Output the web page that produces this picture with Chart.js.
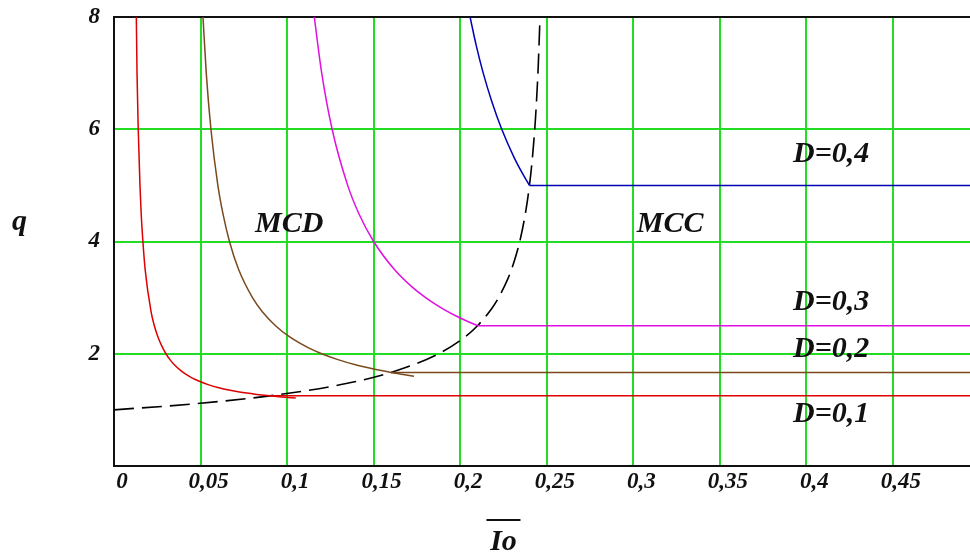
<!DOCTYPE html>
<html>
<head>
<meta charset="utf-8">
<script src="https://cdn.jsdelivr.net/npm/chart.js@4"></script>
<style>
  body { margin: 0; background: #fff; }
  #wrap { width: 970px; height: 556px; position: relative; }
</style>
</head>
<body>
<div id="wrap"><canvas id="myChart"></canvas></div>
<script>
"use strict";

// axis ticks
const xTicks = [0, 0.05, 0.1, 0.15, 0.2, 0.25, 0.3, 0.35, 0.4, 0.45];
const xTickLabels = ['0', '0,05', '0,1', '0,15', '0,2', '0,25', '0,3', '0,35', '0,4', '0,45'];
const yTicks = [0, 2, 4, 6, 8];
const yTickLabels = ['', '2', '4', '6', '8'];
const xMax = 0.4945;

// MCD curves (one per D)
const mcd1Io = [0.0129, 0.0133, 0.014, 0.015, 0.0157, 0.0167, 0.018, 0.0214, 0.0233, 0.0254, 0.0282, 0.03, 0.0322, 0.035, 0.0386, 0.0433, 0.0464, 0.05, 0.0544, 0.06, 0.0671, 0.0725, 0.0767, 0.0814, 0.0869, 0.09, 0.097, 0.105];
const mcd1Q  = [8, 7, 6, 5, 4.5, 4, 3.5, 2.75, 2.5, 2.3, 2.1, 2, 1.9, 1.8, 1.7, 1.6, 1.55, 1.5, 1.45, 1.4, 1.35, 1.32, 1.3, 1.28, 1.26, 1.25, 1.23, 1.21];

const mcd2Io = [0.0514, 0.0533, 0.056, 0.06, 0.0629, 0.0667, 0.072, 0.08, 0.0857, 0.0933, 0.1015, 0.1127, 0.12, 0.1289, 0.14, 0.1543, 0.16, 0.1733];
const mcd2Q  = [8, 7, 6, 5, 4.5, 4, 3.5, 3, 2.75, 2.5, 2.3, 2.1, 2, 1.9, 1.8, 1.7, 1.667, 1.6];

const mcd3Io = [0.1157, 0.12, 0.126, 0.135, 0.1414, 0.15, 0.162, 0.1718, 0.18, 0.19, 0.1991, 0.21];
const mcd3Q  = [8, 7, 6, 5, 4.5, 4, 3.5, 3.2, 3, 2.8, 2.65, 2.5];

const mcd4Io = [0.2057, 0.2092, 0.2133, 0.2182, 0.224, 0.2311, 0.2362, 0.24];
const mcd4Q  = [8, 7.5, 7, 6.5, 6, 5.5, 5.2, 5];

// MCC flat levels
const mccStart = [0.09, 0.16, 0.21, 0.24];
const mccQ = [1.25, 1.667, 2.5, 5];

// MCD / MCC boundary (dashed)
const boundIo = [0, 0.0475, 0.09, 0.1275, 0.16, 0.1875, 0.2016, 0.21, 0.2176, 0.2211, 0.2275, 0.2304, 0.2344, 0.2379, 0.24, 0.2419, 0.2436, 0.2451, 0.2461];
const boundQ  = [1, 1.111, 1.25, 1.429, 1.667, 2, 2.273, 2.5, 2.778, 2.941, 3.333, 3.571, 4, 4.545, 5, 5.556, 6.25, 7.143, 8];

const dLabels = ['D=0,1', 'D=0,2', 'D=0,3', 'D=0,4'];
const colors = ['#dd0000', '#7a4a1e', '#e010e0', '#0000b4'];
const gridGreen = '#22dd22';

const pts = (xs, ys) => xs.map((x, i) => ({ x: x, y: ys[i] }));

const datasets = [];
const mcdIo = [mcd1Io, mcd2Io, mcd3Io, mcd4Io];
const mcdQ = [mcd1Q, mcd2Q, mcd3Q, mcd4Q];
for (let i = 0; i < 4; i++) {
  datasets.push({
    label: 'MCD ' + dLabels[i],
    data: pts(mcdIo[i], mcdQ[i]),
    borderColor: colors[i], borderWidth: 1.5,
    cubicInterpolationMode: 'monotone'
  });
  datasets.push({
    label: 'MCC ' + dLabels[i],
    data: pts([mccStart[i], xMax], [mccQ[i], mccQ[i]]),
    borderColor: colors[i], borderWidth: 1.5
  });
}
datasets.push({
  label: 'boundary',
  data: pts(boundIo, boundQ),
  borderColor: '#000', borderWidth: 1.6, borderDash: [20, 8],
  cubicInterpolationMode: 'monotone'
});

// text on the plot
const notes = [
  { text: 'MCD', x: 0.0815, y: 4.17 },
  { text: 'MCC', x: 0.302, y: 4.17 },
  { text: dLabels[3], x: 0.3923, y: 5.42 },
  { text: dLabels[2], x: 0.3923, y: 2.78 },
  { text: dLabels[1], x: 0.3923, y: 1.94 },
  { text: dLabels[0], x: 0.3923, y: 0.785 }
];

const textPlugin = {
  id: 'texts',
  afterDraw(chart) {
    const ctx = chart.ctx;
    const xs = chart.scales.x, ys = chart.scales.y;
    ctx.save();
    ctx.fillStyle = '#111';
    ctx.font = 'italic bold 30px "Liberation Serif"';
    ctx.textAlign = 'left';
    ctx.textBaseline = 'alphabetic';
    notes.forEach(n => {
      ctx.fillText(n.text, xs.getPixelForValue(n.x), ys.getPixelForValue(n.y));
    });
    // axis names
    ctx.fillText('q', 12, 230);
    ctx.textAlign = 'center';
    const cx = xs.getPixelForValue(0.225);
    ctx.fillText('Io', cx, 550);
    ctx.strokeStyle = '#111';
    ctx.lineWidth = 2;
    ctx.beginPath();
    ctx.moveTo(cx - 17, 520);
    ctx.lineTo(cx + 17, 520);
    ctx.stroke();
    ctx.restore();
  }
};

const tickFont = { family: '"Liberation Serif"', size: 23, style: 'italic', weight: 'bold' };

new Chart(document.getElementById('myChart'), {
  type: 'scatter',
  data: { datasets: datasets },
  options: {
    responsive: true,
    maintainAspectRatio: false,
    animation: false,
    showLine: true,
    elements: { point: { radius: 0 }, line: { tension: 0 } },
    layout: { padding: { top: 17, right: 0, left: 0, bottom: 0 } },
    plugins: { legend: { display: false }, tooltip: { enabled: false } },
    scales: {
      x: {
        type: 'linear', min: 0, max: xMax,
        afterBuildTicks: s => { s.ticks = xTicks.map(v => ({ value: v })); },
        afterFit: s => { s.height = 90; s.paddingLeft = 0; s.paddingRight = 0; },
        ticks: {
          autoSkip: false, maxRotation: 0, padding: 2, labelOffset: 8,
          color: '#111', font: tickFont,
          callback: (v, i) => xTickLabels[i]
        },
        grid: {
          drawTicks: false, lineWidth: 2,
          color: c => (c.tick && c.tick.value === 0) ? '#111' : gridGreen
        },
        border: { display: true, color: '#111', width: 2 }
      },
      y: {
        type: 'linear', min: 0, max: 8,
        afterBuildTicks: s => { s.ticks = yTicks.map(v => ({ value: v })); },
        afterFit: s => { s.width = 114; s.paddingTop = 0; s.paddingBottom = 0; },
        ticks: {
          padding: 14, color: '#111', font: tickFont,
          callback: (v, i) => yTickLabels[i]
        },
        grid: {
          drawTicks: false, lineWidth: 2,
          color: c => (c.tick && (c.tick.value === 0 || c.tick.value === 8)) ? '#111' : gridGreen
        },
        border: { display: true, color: '#111', width: 2 }
      }
    }
  },
  plugins: [textPlugin]
});
</script>
</body>
</html>
